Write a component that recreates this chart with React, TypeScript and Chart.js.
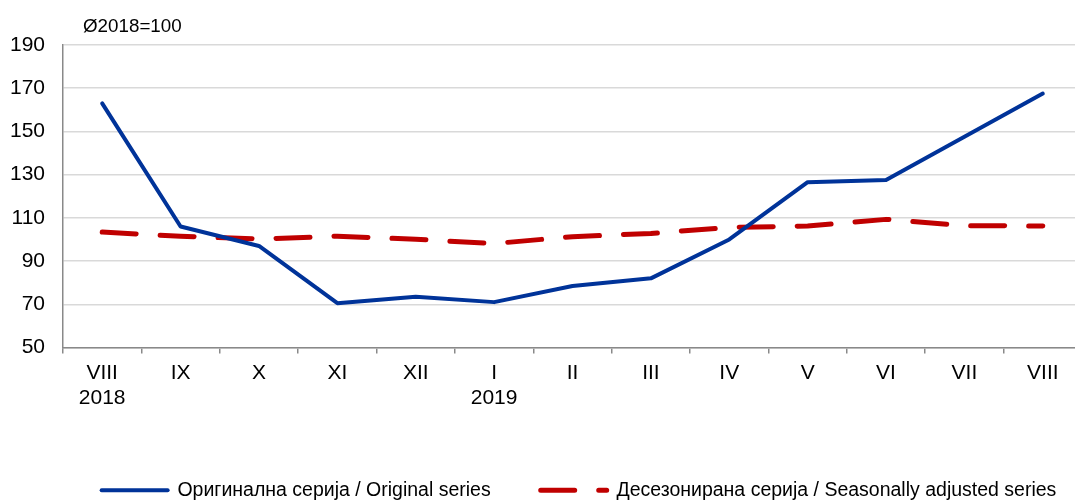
import React, { useEffect, useRef } from 'react';
import { Chart, registerables } from 'chart.js';

Chart.register(...registerables);

// ---- data ----
const months: (string | string[])[] = [
  ['VIII', '2018'], 'IX', 'X', 'XI', 'XII', ['I', '2019'], 'II', 'III', 'IV', 'V', 'VI', 'VII', 'VIII',
];
const originalSeries = [163, 106, 97, 70.5, 73.5, 71, 78.5, 82, 100, 126.5, 127.5, 147.5, 167.5];
const adjustedSeries = [103.4, 101.5, 100.2, 101.5, 100.1, 98.1, 101.3, 102.8, 105.6, 106.2, 109.3, 106.4, 106.2];
const seriesNames = [
  'Оригинална серија / Original series',
  'Десезонирана серија / Seasonally adjusted series',
];
const unitLabel = 'Ø2018=100';
const yMin = 50;
const yMax = 190;
const yStep = 20;

const FONT = '"Liberation Sans", Arial, Helvetica, sans-serif';
const BLUE = '#003399';
const RED = '#C00000';
const AXIS = '#898989';
const GRID = '#d9d9d9';

const unitPlugin = {
  id: 'unitLabel',
  afterDraw(chart: any) {
    const ctx = chart.ctx;
    ctx.save();
    ctx.font = `18.8px ${FONT}`;
    ctx.fillStyle = '#000';
    ctx.textAlign = 'left';
    ctx.textBaseline = 'alphabetic';
    ctx.fillText(unitLabel, chart.chartArea.left + 20, 32);
    ctx.restore();
  },
};

const legendShiftPlugin = {
  id: 'legendShift',
  afterLayout(chart: any) {
    const lg = chart.legend;
    if (lg) {
      lg.left += 38;
      lg.right += 38;
    }
  },
};

export default function App() {
  const ref = useRef<HTMLCanvasElement>(null);

  useEffect(() => {
    if (!ref.current) return;
    Chart.defaults.font.family = FONT;
    const chart = new Chart(ref.current, {
      type: 'line',
      data: {
        labels: months as any,
        datasets: [
          {
            label: seriesNames[0],
            data: originalSeries,
            borderColor: BLUE,
            backgroundColor: BLUE,
            borderWidth: 4,
            pointRadius: 0,
            tension: 0,
            borderJoinStyle: 'round',
            borderCapStyle: 'round',
          },
          {
            label: seriesNames[1],
            data: adjustedSeries,
            borderColor: RED,
            backgroundColor: RED,
            borderWidth: 5,
            borderDash: [34, 24],
            pointRadius: 0,
            tension: 0,
            borderJoinStyle: 'round',
            borderCapStyle: 'round',
          },
        ],
      },
      options: {
        responsive: false,
        animation: false,
        layout: { padding: { top: 45, left: 0, right: 1, bottom: 0 } },
        plugins: {
          title: { display: false },
          tooltip: { enabled: false },
          legend: {
            position: 'bottom',
            labels: {
              usePointStyle: true,
              pointStyle: 'line',
              pointStyleWidth: 66,
              boxWidth: 66,
              padding: 50,
              color: '#000',
              font: { size: 19.5, family: FONT },
              generateLabels: (c: any) =>
                c.data.datasets.map((ds: any, i: number) => ({
                  text: ds.label,
                  fillStyle: ds.borderColor,
                  strokeStyle: ds.borderColor,
                  lineWidth: ds.borderWidth,
                  lineDash: ds.borderDash || [],
                  lineCap: 'round',
                  pointStyle: 'line',
                  fontColor: '#000',
                  hidden: false,
                  datasetIndex: i,
                })),
            },
          },
        },
        scales: {
          x: {
            offset: true,
            grid: {
              display: true,
              drawOnChartArea: false,
              drawTicks: true,
              tickLength: 6,
              offset: true,
              color: AXIS,
              lineWidth: 1.5,
            },
            border: { display: true, color: AXIS, width: 1.5 },
            ticks: {
              color: '#000',
              font: { size: 21, family: FONT },
              padding: 7,
              maxRotation: 0,
              autoSkip: false,
            },
            afterFit: (scale: any) => {
              scale.height = 83;
            },
          },
          y: {
            min: yMin,
            max: yMax,
            grid: { color: GRID, lineWidth: 1.5, drawTicks: false },
            border: { display: true, color: AXIS, width: 1.5 },
            ticks: {
              stepSize: yStep,
              color: '#000',
              font: { size: 21, family: FONT },
              padding: 18,
            },
            afterFit: (scale: any) => {
              scale.width = 63;
            },
          },
        },
      },
      plugins: [unitPlugin, legendShiftPlugin],
    });
    return () => chart.destroy();
  }, []);

  return (
    <div
      style={{
        position: 'fixed',
        left: 0,
        top: 0,
        width: 1075,
        height: 500,
        overflow: 'hidden',
        background: '#fff',
      }}
    >
      <canvas ref={ref} width={1083} height={510} style={{ display: 'block' }} />
    </div>
  );
}
